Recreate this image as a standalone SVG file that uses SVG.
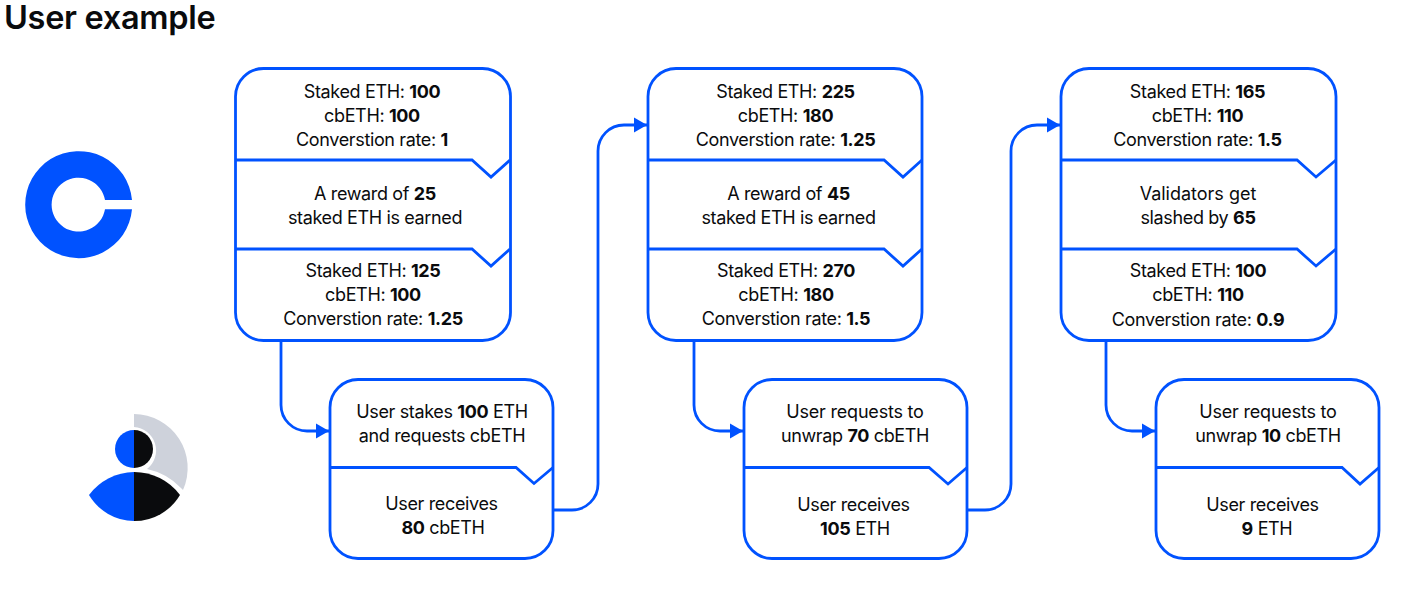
<svg xmlns="http://www.w3.org/2000/svg" width="1414" height="604" viewBox="0 0 1414 604">
<style>
text{font-family:"Inter","Liberation Sans",sans-serif;font-size:18px;fill:#0a0b0d;text-anchor:middle;letter-spacing:-0.36px}
tspan.b,.b{font-weight:700}
.title{font-size:32.5px;font-weight:600;text-anchor:start;letter-spacing:-0.3px}
.box{fill:#fff;stroke:#0052ff;stroke-width:2.8}
.ln{fill:none;stroke:#0052ff;stroke-width:2.8}
</style>
<defs>
<marker id="ah" markerUnits="userSpaceOnUse" markerWidth="14" markerHeight="16" refX="13" refY="8" orient="auto"><path d="M0 0.500L13 8L0 15.500Z" fill="#0052ff"/></marker>
</defs>
<rect width="1414" height="604" fill="#fff"/>
<text class="title" x="4" y="29">User example</text>
<g id="logo"><path d="M132 200A53.5 53.5 0 1 0 132 209.300H105A26.900 26.900 0 1 1 105 200Z" fill="#0052ff"/></g>
<g id="user">
<path d="M134 414A54 54 0 0 1 183 490L181 488A66 66 0 0 0 147 469A23.500 23.500 0 0 0 134 427Z" fill="#ced2db"/>
<path d="M134 430A19 19 0 0 0 134 468Z" fill="#0052ff"/><path d="M134 430A19 19 0 0 1 134 468Z" fill="#0a0b0d"/>
<path d="M134 472A57 57 0 0 0 89 495A53 53 0 0 0 134 521Z" fill="#0052ff"/><path d="M134 472A57 57 0 0 1 180 495A53 53 0 0 1 134 521Z" fill="#0a0b0d"/>
</g>
<g id="connectors">
<path class="ln" d="M281 341V405A26 26 0 0 0 307 431H329" marker-end="url(#ah)"/>
<path class="ln" d="M553 510H572A26 26 0 0 0 598 484V151A26 26 0 0 1 624 125H647" marker-end="url(#ah)"/>
<path class="ln" d="M694 341V405A26 26 0 0 0 720 431H743" marker-end="url(#ah)"/>
<path class="ln" d="M967 510H985A26 26 0 0 0 1011 484V151A26 26 0 0 1 1037 125H1060" marker-end="url(#ah)"/>
<path class="ln" d="M1106 341V405A26 26 0 0 0 1132 431H1155" marker-end="url(#ah)"/>
</g>
<g id="node-1">
<rect class="box" x="235.500" y="68.500" width="275" height="272" rx="28"/>
<path class="ln" d="M236 160H472L491 177L510 160M236 249H472L491 266L510 249"/>
<text x="372" y="98">Staked ETH: <tspan class="b">100</tspan></text>
<text x="372" y="122">cbETH: <tspan class="b">100</tspan></text>
<text x="372" y="146">Converstion rate: <tspan class="b">1</tspan></text>
<text x="375" y="200">A reward of <tspan class="b">25</tspan></text>
<text x="375" y="224">staked ETH is earned</text>
<text x="373" y="277">Staked ETH: <tspan class="b">125</tspan></text>
<text x="373" y="301">cbETH: <tspan class="b">100</tspan></text>
<text x="373" y="325">Converstion rate: <tspan class="b">1.25</tspan></text>
</g>
<g id="node-2">
<rect class="box" x="330" y="379.500" width="223" height="179" rx="28"/>
<path class="ln" d="M330 467.500H516L534 483.500L553 467.500"/>
<text x="442" y="418">User stakes <tspan class="b">100</tspan> ETH</text>
<text x="442" y="442">and requests cbETH</text>
<text x="441.500" y="510">User receives</text>
<text x="443" y="534"><tspan class="b">80</tspan> cbETH</text>
</g>
<g id="node-3">
<rect class="box" x="648" y="68.500" width="274" height="272" rx="28"/>
<path class="ln" d="M648 160H884L903 177L922 160M648 249H884L903 266L922 249"/>
<text x="785.500" y="98">Staked ETH: <tspan class="b">225</tspan></text>
<text x="785.500" y="122">cbETH: <tspan class="b">180</tspan></text>
<text x="785.500" y="146">Converstion rate: <tspan class="b">1.25</tspan></text>
<text x="788.500" y="200">A reward of <tspan class="b">45</tspan></text>
<text x="788.500" y="224">staked ETH is earned</text>
<text x="786" y="277">Staked ETH: <tspan class="b">270</tspan></text>
<text x="786" y="301">cbETH: <tspan class="b">180</tspan></text>
<text x="786" y="325">Converstion rate: <tspan class="b">1.5</tspan></text>
</g>
<g id="node-4">
<rect class="box" x="744" y="379.500" width="223" height="179" rx="28"/>
<path class="ln" d="M744 467.500H929L948 484L967 467.500"/>
<text x="855" y="418" style="letter-spacing:-0.2px">User requests to</text>
<text x="855" y="442">unwrap <tspan class="b">70</tspan> cbETH</text>
<text x="853.500" y="511">User receives</text>
<text x="855" y="535"><tspan class="b">105</tspan> ETH</text>
</g>
<g id="node-5">
<rect class="box" x="1061" y="68.500" width="275" height="272" rx="28"/>
<path class="ln" d="M1061 160H1297L1316 177L1336 160M1061 249H1297L1316 266L1336 249"/>
<text x="1197.500" y="98">Staked ETH: <tspan class="b">165</tspan></text>
<text x="1197.500" y="122">cbETH: <tspan class="b">110</tspan></text>
<text x="1197.500" y="146">Converstion rate: <tspan class="b">1.5</tspan></text>
<text x="1198" y="200" style="letter-spacing:0">Validators get</text>
<text x="1198" y="224">slashed by <tspan class="b">65</tspan></text>
<text x="1198" y="277">Staked ETH: <tspan class="b">100</tspan></text>
<text x="1198" y="301">cbETH: <tspan class="b">110</tspan></text>
<text x="1198" y="326">Converstion rate: <tspan class="b">0.9</tspan></text>
</g>
<g id="node-6">
<rect class="box" x="1156" y="379.500" width="223" height="179" rx="28"/>
<path class="ln" d="M1156 467.500H1342L1360 484L1379 467.500"/>
<text x="1268" y="418" style="letter-spacing:-0.2px">User requests to</text>
<text x="1268" y="442">unwrap <tspan class="b">10</tspan> cbETH</text>
<text x="1262.500" y="511">User receives</text>
<text x="1267" y="535"><tspan class="b">9</tspan> ETH</text>
</g>
</svg>
